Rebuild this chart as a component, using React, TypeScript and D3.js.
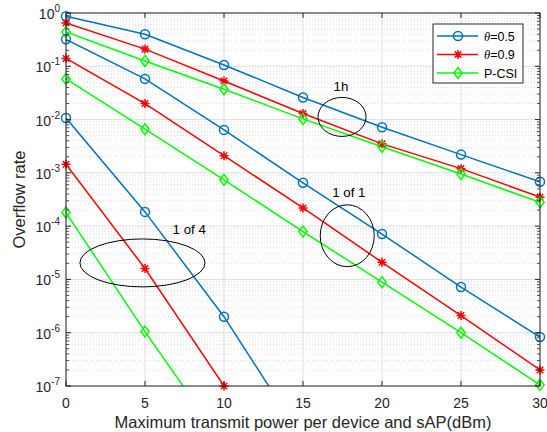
import * as d3 from "d3";
import { useEffect, useRef } from "react";

const power = [0, 5, 10, 15, 20, 25, 30];

// 1h group
const theta05_1h = [0.87, 0.4, 0.106, 0.026, 0.0072, 0.0022, 0.00068];
const theta09_1h = [0.65, 0.21, 0.053, 0.013, 0.0035, 0.0012, 0.00035];
const pcsi_1h = [0.44, 0.126, 0.037, 0.0103, 0.0031, 0.00095, 0.00028];
// 1 of 1 group
const theta05_1of1 = [0.32, 0.058, 0.0064, 6.5e-4, 7.1e-5, 7.2e-6, 8.3e-7];
const theta09_1of1 = [0.14, 0.02, 0.0021, 2.2e-4, 2.1e-5, 2.1e-6, 2.0e-7];
const pcsi_1of1 = [0.058, 0.0066, 7.4e-4, 7.9e-5, 8.9e-6, 1.0e-6, 1.05e-7];
// 1 of 4 group
const theta05_1of4 = [0.0107, 1.85e-4, 2.0e-6, 1.0e-8];
const theta09_1of4 = [1.45e-3, 1.6e-5, 1.0e-7];
const pcsi_1of4 = [1.8e-4, 1.05e-6, 8e-9];

const xTicks = [0, 5, 10, 15, 20, 25, 30];
const yExponents = [0, -1, -2, -3, -4, -5, -6, -7];

const legendLabels = ["θ=0.5", "θ=0.9", "P-CSI"];

// annotations: label, center (x, log10 y), radii (x units, decades)
const annLabels = ["1h", "1 of 1", "1 of 4"];
const annCenters = [
  [17.47, -1.95],
  [17.8, -4.18],
  [4.84, -4.69],
];
const annRadii = [
  [1.52, 0.366],
  [1.71, 0.58],
  [3.96, 0.45],
];
const annText = [
  [17.4, -1.46],
  [17.9, -3.45],
  [7.8, -4.15],
];

const BLUE = "#0072BD";
const RED = "#FF0000";
const GREEN = "#00FF00";
const AXIS = "#262626";
const FONT = "'Liberation Sans', Arial, Helvetica, sans-serif";

const W = 547;
const H = 432;
const M = { left: 66, right: 7, top: 13, bottom: 46 };

const drawMarker = (g, type, x, y, color) => {
  if (type === "o") {
    g.append("circle")
      .attr("cx", x)
      .attr("cy", y)
      .attr("r", 4.5)
      .attr("fill", "none")
      .attr("stroke", color)
      .attr("stroke-width", 1.5);
  } else if (type === "d") {
    const s = 5.5;
    g.append("path")
      .attr("d", `M${x},${y - s}L${x + s * 0.75},${y}L${x},${y + s}L${x - s * 0.75},${y}Z`)
      .attr("fill", "none")
      .attr("stroke", color)
      .attr("stroke-width", 1.5);
  } else {
    const s = 4.5;
    const d = s * 0.72;
    g.append("path")
      .attr(
        "d",
        `M${x - s},${y}L${x + s},${y}M${x},${y - s}L${x},${y + s}` +
          `M${x - d},${y - d}L${x + d},${y + d}M${x - d},${y + d}L${x + d},${y - d}`
      )
      .attr("stroke", color)
      .attr("stroke-width", 1.5);
  }
};

const App = () => {
  const ref = useRef(null);

  useEffect(() => {
    document.body.style.margin = "0";
    const root = d3.select(ref.current);
    root.selectAll("*").remove();
    const svg = root
      .append("svg")
      .attr("width", W)
      .attr("height", H)
      .style("display", "block")
      .style("background", "white")
      .style("font-family", FONT);

    const x = d3.scaleLinear().domain([0, 30]).range([M.left, W - M.right]);
    const y = d3.scaleLog().domain([1e-7, 1]).range([H - M.bottom, M.top]);
    const x0 = M.left;
    const x1 = W - M.right;
    const y0 = H - M.bottom;
    const y1 = M.top;

    svg
      .append("defs")
      .append("clipPath")
      .attr("id", "plotclip")
      .append("rect")
      .attr("x", x0)
      .attr("y", y1)
      .attr("width", x1 - x0)
      .attr("height", y0 - y1);

    // minor grid
    const grid = svg.append("g");
    yExponents.slice(1).forEach((e) => {
      for (let k = 2; k <= 9; k++) {
        const v = k * Math.pow(10, e);
        grid
          .append("line")
          .attr("x1", x0)
          .attr("x2", x1)
          .attr("y1", y(v))
          .attr("y2", y(v))
          .attr("stroke", "#c8c8c8")
          .attr("stroke-width", 0.6)
          .attr("stroke-dasharray", "1,2");
      }
    });
    // major grid
    yExponents.forEach((e) => {
      grid
        .append("line")
        .attr("x1", x0)
        .attr("x2", x1)
        .attr("y1", y(Math.pow(10, e)))
        .attr("y2", y(Math.pow(10, e)))
        .attr("stroke", "#dedede")
        .attr("stroke-width", 1);
    });
    xTicks.forEach((t) => {
      grid
        .append("line")
        .attr("x1", x(t))
        .attr("x2", x(t))
        .attr("y1", y0)
        .attr("y2", y1)
        .attr("stroke", "#dedede")
        .attr("stroke-width", 1);
    });

    // series
    const series = [
      [theta05_1h, BLUE, "o"],
      [theta09_1h, RED, "*"],
      [pcsi_1h, GREEN, "d"],
      [theta05_1of1, BLUE, "o"],
      [theta09_1of1, RED, "*"],
      [pcsi_1of1, GREEN, "d"],
      [theta05_1of4, BLUE, "o"],
      [theta09_1of4, RED, "*"],
      [pcsi_1of4, GREEN, "d"],
    ];
    const line = d3
      .line()
      .x((d) => x(d[0]))
      .y((d) => y(d[1]));
    const lines = svg.append("g").attr("clip-path", "url(#plotclip)");
    const marks = svg.append("g");
    series.forEach(([vals, color, type]) => {
      const pts = vals.map((v, i) => [power[i], v]);
      lines
        .append("path")
        .attr("d", line(pts))
        .attr("fill", "none")
        .attr("stroke", color)
        .attr("stroke-width", 1.5);
      pts
        .filter((p) => p[1] >= 1e-7 * 0.99)
        .forEach((p) => drawMarker(marks, type, x(p[0]), y(p[1]), color));
    });

    // annotations
    const ann = svg.append("g");
    annLabels.forEach((lab, i) => {
      const [cx, cy] = annCenters[i];
      const [rx, ry] = annRadii[i];
      ann
        .append("ellipse")
        .attr("cx", x(cx))
        .attr("cy", y(Math.pow(10, cy)))
        .attr("rx", x(cx + rx) - x(cx))
        .attr("ry", y(Math.pow(10, cy - ry)) - y(Math.pow(10, cy)))
        .attr("fill", "none")
        .attr("stroke", "#000")
        .attr("stroke-width", 1);
      ann
        .append("text")
        .attr("x", x(annText[i][0]))
        .attr("y", y(Math.pow(10, annText[i][1])))
        .attr("text-anchor", "middle")
        .attr("font-size", 13.3)
        .attr("fill", "#000")
        .text(lab);
    });

    // axes box
    const ax = svg.append("g");
    ax.append("rect")
      .attr("x", x0)
      .attr("y", y1)
      .attr("width", x1 - x0)
      .attr("height", y0 - y1)
      .attr("fill", "none")
      .attr("stroke", AXIS)
      .attr("stroke-width", 1);
    // x ticks
    xTicks.forEach((t) => {
      ax.append("line")
        .attr("x1", x(t))
        .attr("x2", x(t))
        .attr("y1", y0)
        .attr("y2", y0 - 5)
        .attr("stroke", AXIS);
      ax.append("line")
        .attr("x1", x(t))
        .attr("x2", x(t))
        .attr("y1", y1)
        .attr("y2", y1 + 5)
        .attr("stroke", AXIS);
      ax.append("text")
        .attr("x", x(t))
        .attr("y", y0 + 22)
        .attr("text-anchor", "middle")
        .attr("font-size", 14)
        .attr("fill", AXIS)
        .text(t);
    });
    // y ticks
    yExponents.forEach((e) => {
      const yy = y(Math.pow(10, e));
      [x0, x1].forEach((xx, j) => {
        const dir = j === 0 ? 1 : -1;
        ax.append("line")
          .attr("x1", xx)
          .attr("x2", xx + dir * 5)
          .attr("y1", yy)
          .attr("y2", yy)
          .attr("stroke", AXIS);
        if (e > -7) {
          for (let k = 2; k <= 9; k++) {
            const ym = y(k * Math.pow(10, e - 1));
            ax.append("line")
              .attr("x1", xx)
              .attr("x2", xx + dir * 3)
              .attr("y1", ym)
              .attr("y2", ym)
              .attr("stroke", AXIS)
              .attr("stroke-width", 0.8);
          }
        }
      });
      const txt = ax
        .append("text")
        .attr("x", x0 - 6)
        .attr("y", yy + 6)
        .attr("text-anchor", "end")
        .attr("font-size", 14)
        .attr("fill", AXIS);
      txt.append("tspan").text("10");
      txt
        .append("tspan")
        .attr("dy", -7)
        .attr("font-size", 10)
        .text(String(e));
    });

    // axis labels
    svg
      .append("text")
      .attr("x", (x0 + x1) / 2)
      .attr("y", 428)
      .attr("text-anchor", "middle")
      .attr("font-size", 16.5)
      .attr("fill", AXIS)
      .text("Maximum transmit power per device and sAP(dBm)");
    svg
      .append("text")
      .attr("transform", `translate(25,${(y0 + y1) / 2}) rotate(-90)`)
      .attr("text-anchor", "middle")
      .attr("font-size", 16.5)
      .attr("fill", AXIS)
      .text("Overflow rate");

    // legend
    const lg = svg.append("g");
    lg.append("rect")
      .attr("x", 433)
      .attr("y", 24)
      .attr("width", 90)
      .attr("height", 59)
      .attr("fill", "white")
      .attr("stroke", AXIS)
      .attr("stroke-width", 1);
    const legendStyle = [
      [BLUE, "o"],
      [RED, "*"],
      [GREEN, "d"],
    ];
    legendLabels.forEach((lab, i) => {
      const ly = 36 + i * 18.5;
      const [color, type] = legendStyle[i];
      lg.append("line")
        .attr("x1", 437)
        .attr("x2", 478)
        .attr("y1", ly)
        .attr("y2", ly)
        .attr("stroke", color)
        .attr("stroke-width", 1.5);
      drawMarker(lg, type, 458, ly, color);
      const t = lg
        .append("text")
        .attr("x", 484)
        .attr("y", ly + 4.5)
        .attr("font-size", 12.5)
        .attr("fill", "#000");
      if (lab.startsWith("θ")) {
        t.append("tspan")
          .attr("font-style", "italic")
          .attr("font-family", "'Liberation Serif', serif")
          .text("θ");
        t.append("tspan").text(lab.slice(1));
      } else {
        t.text(lab);
      }
    });
  }, []);

  return <div ref={ref}></div>;
};

export default App;
